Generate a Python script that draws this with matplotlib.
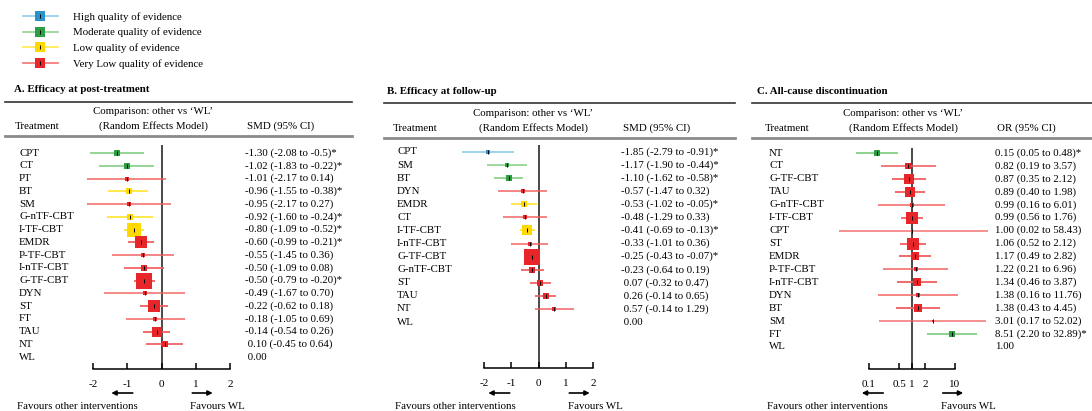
import matplotlib
matplotlib.use("Agg")
import matplotlib.pyplot as plt
from matplotlib.lines import Line2D
from matplotlib.transforms import blended_transform_factory

plt.rcParams['font.family'] = ['Liberation Serif', 'DejaVu Serif']
plt.rcParams['font.size'] = 7.8

# ---- data -------------------------------------------------------------
quality_names = ["High quality of evidence", "Moderate quality of evidence",
                 "Low quality of evidence", "Very Low quality of evidence"]

# A. efficacy at post-treatment (SMD)
a_names = ["CPT", "CT", "PT", "BT", "SM", "G-nTF-CBT", "I-TF-CBT", "EMDR", "P-TF-CBT",
           "I-nTF-CBT", "G-TF-CBT", "DYN", "ST", "FT", "TAU", "NT", "WL"]
a_est = [-1.30, -1.02, -1.01, -0.96, -0.95, -0.92, -0.80, -0.60, -0.55, -0.50, -0.50,
         -0.49, -0.22, -0.18, -0.14, 0.10]
a_lo = [-2.08, -1.83, -2.17, -1.55, -2.17, -1.60, -1.09, -0.99, -1.45, -1.09, -0.79,
        -1.67, -0.62, -1.05, -0.54, -0.45]
a_hi = [-0.50, -0.22, 0.14, -0.38, 0.27, -0.24, -0.52, -0.21, 0.36, 0.08, -0.20,
        0.70, 0.18, 0.69, 0.26, 0.64]
a_qual = [1, 1, 3, 2, 3, 2, 2, 3, 3, 3, 3, 3, 3, 3, 3, 3]
a_wt = [4, 4, 3, 5, 3, 5, 10, 8, 3, 5, 11, 2.5, 8, 3, 7, 5]
a_ci = ["-1.30 (-2.08 to -0.5)*", "-1.02 (-1.83 to -0.22)*", "-1.01 (-2.17 to 0.14)",
        "-0.96 (-1.55 to -0.38)*", "-0.95 (-2.17 to 0.27)", "-0.92 (-1.60 to -0.24)*",
        "-0.80 (-1.09 to -0.52)*", "-0.60 (-0.99 to -0.21)*", "-0.55 (-1.45 to 0.36)",
        "-0.50 (-1.09 to 0.08)", "-0.50 (-0.79 to -0.20)*", "-0.49 (-1.67 to 0.70)",
        "-0.22 (-0.62 to 0.18)", "-0.18 (-1.05 to 0.69)", "-0.14 (-0.54 to 0.26)",
        " 0.10 (-0.45 to 0.64)", " 0.00"]

# B. efficacy at follow-up (SMD)
b_names = ["CPT", "SM", "BT", "DYN", "EMDR", "CT", "I-TF-CBT", "I-nTF-CBT", "G-TF-CBT",
           "G-nTF-CBT", "ST", "TAU", "NT", "WL"]
b_est = [-1.85, -1.17, -1.10, -0.57, -0.53, -0.48, -0.41, -0.33, -0.25, -0.23, 0.07, 0.26, 0.57]
b_lo = [-2.79, -1.90, -1.62, -1.47, -1.02, -1.29, -0.69, -1.01, -0.43, -0.64, -0.32, -0.14, -0.14]
b_hi = [-0.91, -0.44, -0.58, 0.32, -0.05, 0.33, -0.13, 0.36, -0.07, 0.19, 0.47, 0.65, 1.29]
b_qual = [0, 1, 1, 3, 2, 3, 2, 3, 3, 3, 3, 3, 3]
b_wt = [3, 3, 4, 3, 5, 3, 7, 3, 11, 5, 5, 5, 3]
b_ci = ["-1.85 (-2.79 to -0.91)*", "-1.17 (-1.90 to -0.44)*", "-1.10 (-1.62 to -0.58)*",
        "-0.57 (-1.47 to 0.32)", "-0.53 (-1.02 to -0.05)*", "-0.48 (-1.29 to 0.33)",
        "-0.41 (-0.69 to -0.13)*", "-0.33 (-1.01 to 0.36)", "-0.25 (-0.43 to -0.07)*",
        "-0.23 (-0.64 to 0.19)", " 0.07 (-0.32 to 0.47)", " 0.26 (-0.14 to 0.65)",
        " 0.57 (-0.14 to 1.29)", " 0.00"]

# C. all-cause discontinuation (OR)
c_names = ["NT", "CT", "G-TF-CBT", "TAU", "G-nTF-CBT", "I-TF-CBT", "CPT", "ST", "EMDR",
           "P-TF-CBT", "I-nTF-CBT", "DYN", "BT", "SM", "FT", "WL"]
c_est = [0.15, 0.82, 0.87, 0.89, 0.99, 0.99, 1.00, 1.06, 1.17, 1.22, 1.34, 1.38, 1.38, 3.01, 8.51]
c_lo = [0.05, 0.19, 0.35, 0.40, 0.16, 0.56, 0.02, 0.52, 0.49, 0.21, 0.46, 0.16, 0.43, 0.17, 2.20]
c_hi = [0.48, 3.57, 2.12, 1.98, 6.01, 1.76, 58.43, 2.12, 2.82, 6.96, 3.87, 11.76, 4.45, 52.02, 32.89]
c_qual = [1, 3, 3, 3, 3, 3, 3, 3, 3, 3, 3, 3, 3, 3, 1]
c_wt = [5, 4, 7, 7, 3, 9, 2, 8, 6, 3, 6, 3, 6, 2, 5]
c_ci = ["0.15 (0.05 to 0.48)*", "0.82 (0.19 to 3.57)", "0.87 (0.35 to 2.12)",
        "0.89 (0.40 to 1.98)", "0.99 (0.16 to 6.01)", "0.99 (0.56 to 1.76)",
        "1.00 (0.02 to 58.43)", "1.06 (0.52 to 2.12)", "1.17 (0.49 to 2.82)",
        "1.22 (0.21 to 6.96)", "1.34 (0.46 to 3.87)", "1.38 (0.16 to 11.76)",
        "1.38 (0.43 to 4.45)", "3.01 (0.17 to 52.02)", "8.51 (2.20 to 32.89)*", "1.00"]

# ---- style ------------------------------------------------------------
line_cols = ['#7CC4E6', '#7FCC7F', '#FFE633', '#F15E5E']
sq_cols = ['#2A93CC', '#2E9E44', '#FFD800', '#E8262A']

W, H = 1092, 411
fig = plt.figure(figsize=(W / 100, H / 100), dpi=100)


def fx(x):
    return x / W


def fy(y):
    return 1 - y / H


def hline(x0, x1, y, color, lw):
    fig.add_artist(Line2D([fx(x0), fx(x1)], [fy(y), fy(y)], color=color, lw=lw,
                          transform=fig.transFigure))


def panel(title, names, est, lo, hi, qual, wt, ci, measure, box, cols, log=False):
    # box: left/right pixel of the axis, top/bottom pixel, first row y, row pitch
    x0, x1, top, bottom, first, pitch = box
    name_x, cmp_x, ci_x, title_x, rule0, rule1, rule_y, rule2_y = cols
    ax = fig.add_axes([fx(x0), fy(bottom), (x1 - x0) / W, (bottom - top) / H])
    ax.set_facecolor('none')
    ax.set_ylim((bottom - first) / pitch, (top - first) / pitch)
    if log:
        ax.set_xscale('log')
        ax.set_xlim(0.1, 10)
        ax.set_xticks([0.1, 0.5, 1, 2, 10])
        ax.set_xticklabels(['0.1', '0.5', '1', '2', '10'])
        ax.minorticks_off()
        ref = 1
    else:
        ax.set_xlim(-2, 2)
        ax.set_xticks([-2, -1, 0, 1, 2])
        ax.set_xticklabels(['-2', '-1', '0', '1', '2'])
        ref = 0
    ax.set_yticks([])
    for s in ['top', 'left', 'right']:
        ax.spines[s].set_visible(False)
    ax.spines['bottom'].set_linewidth(1.1)
    ax.tick_params(axis='x', direction='in', length=4, width=1.1, pad=8, labelsize=8)
    ax.axvline(ref, color='#3a3a3a', lw=1.3, zorder=1)

    for i, (e, l, h, q, w) in enumerate(zip(est, lo, hi, qual, wt)):
        a = min(1.0, 0.6 + w / 14)
        ax.plot([l, h], [i, i], color=line_cols[q], lw=1.3, alpha=a, clip_on=False,
                solid_capstyle='butt', zorder=2)
        ax.plot(e, i, marker='s', ms=w, color=sq_cols[q], mew=0, clip_on=False, zorder=3)
        ax.plot(e, i, marker='|', ms=2.4, color='black', mew=0.7, zorder=4)

    trans = blended_transform_factory(fig.transFigure, ax.transData)
    for i, (n, c) in enumerate(zip(names, ci)):
        ax.text(fx(name_x), i, n, transform=trans, ha='left', va='center')
        ax.text(fx(ci_x), i, c, transform=trans, ha='left', va='center')

    # header
    fig.text(fx(title_x), fy(rule_y - 12), title, weight='bold', ha='left', va='center')
    hline(rule0, rule1, rule_y, '#333333', 1.2)
    hline(rule0, rule1, rule2_y, '#8a8a8a', 2.0)
    fig.text(fx(name_x - 4), fy(rule2_y - 10), "Treatment", ha='left', va='center')
    fig.text(fx(cmp_x), fy(rule2_y - 24), "Comparison: other vs \u2018WL\u2019", ha='center', va='center')
    fig.text(fx(cmp_x), fy(rule2_y - 10), "(Random Effects Model)", ha='center', va='center')
    fig.text(fx(ci_x + 2), fy(rule2_y - 10), measure, ha='left', va='center')

    # favour arrows
    zero = ax.transData.transform((ref, 0))[0]
    ax.annotate('', xy=(zero - 53, 18), xytext=(zero - 26, 18), xycoords='figure pixels',
                arrowprops=dict(arrowstyle='-|>', color='black', lw=1.2, mutation_scale=7))
    ax.annotate('', xy=(zero + 54, 18), xytext=(zero + 28, 18), xycoords='figure pixels',
                arrowprops=dict(arrowstyle='-|>', color='black', lw=1.2, mutation_scale=7))
    fig.text(fx(name_x - 2), fy(406), "Favours other interventions", ha='left', va='center')
    fig.text((zero + 29) / W, fy(406), "Favours WL", ha='left', va='center')
    return ax


panel("A. Efficacy at post-treatment", a_names, a_est, a_lo, a_hi, a_qual, a_wt, a_ci,
      "SMD (95% CI)", (93, 230, 145, 369, 153, 12.75), (19, 153, 245, 14, 5, 352, 102, 136))
panel("B. Efficacy at follow-up", b_names, b_est, b_lo, b_hi, b_qual, b_wt, b_ci,
      "SMD (95% CI)", (484, 593, 145, 368, 152, 13.08), (397, 533, 621, 387, 384, 735, 103, 138))
panel("C. All-cause discontinuation", c_names, c_est, c_lo, c_hi, c_qual, c_wt, c_ci,
      "OR (95% CI)", (869, 955, 148, 369, 153, 12.93), (769, 903, 995, 757, 752, 1092, 103, 138),
      log=True)

# legend
handles = []
for q in range(4):
    handles.append((Line2D([], [], color=line_cols[q], lw=1.3, alpha=0.8),
                    Line2D([], [], marker='s', ms=7.5, color=sq_cols[q], mew=0, ls=''),
                    Line2D([], [], marker='|', ms=2.4, color='black', mew=0.7, ls='')))
fig.legend(handles, quality_names, loc='upper left', bbox_to_anchor=(fx(23), fy(12)),
           frameon=False, borderpad=0, borderaxespad=0, handlelength=3.2,
           handletextpad=1.45, labelspacing=0.55, numpoints=1, fontsize=7.8)

fig.savefig("out.png", dpi=100)
